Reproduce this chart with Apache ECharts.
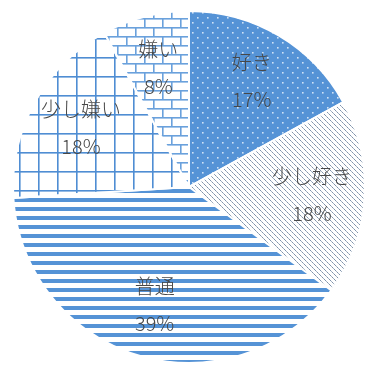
<!DOCTYPE html>
<html>
<head>
<meta charset="utf-8">
<script src="https://cdn.jsdelivr.net/npm/echarts@6/dist/echarts.min.js"></script>
<style>
  html, body { margin: 0; padding: 0; background: #fff; }
  #chart { width: 366px; height: 365px; }
</style>
</head>
<body>
<div id="chart"></div>
<script>
// Survey answers (percent of respondents), clockwise from 12 o'clock
const categories = ['好き', '少し好き', '普通', '少し嫌い', '嫌い'];
const shares = [17, 18, 39, 18, 8];

const BLUE = '#5593d6';
const CENTER = [189, 187];
const RADIUS = 176;
const LABEL_RATIO = 0.70;

function makeTile(w, h, draw) {
  const c = document.createElement('canvas');
  c.width = w; c.height = h;
  const ctx = c.getContext('2d');
  draw(ctx, w, h);
  return { image: c, repeat: 'repeat' };
}

// Fill patterns, one per slice
const patterns = [
  // solid blue with small light dots
  makeTile(10, 10, (ctx, w, h) => {
    ctx.fillStyle = BLUE; ctx.fillRect(0, 0, w, h);
    ctx.fillStyle = '#cfe2f6';
    ctx.fillRect(2, 2, 1.6, 1.6);
    ctx.fillRect(7, 7, 1.6, 1.6);
  }),
  // dotted downward diagonals
  makeTile(5, 5, (ctx, w, h) => {
    ctx.fillStyle = '#ffffff'; ctx.fillRect(0, 0, w, h);
    for (let i = 0; i < 5; i++) {
      ctx.fillStyle = i % 2 ? '#a3b3c6' : '#8193aa';
      ctx.fillRect(i, i, 1, 1);
    }
  }),
  // horizontal stripes
  makeTile(4, 9, (ctx, w, h) => {
    ctx.fillStyle = '#ffffff'; ctx.fillRect(0, 0, w, h);
    ctx.fillStyle = BLUE; ctx.fillRect(0, 0, w, 4);
  }),
  // large grid
  makeTile(19, 19, (ctx, w, h) => {
    ctx.fillStyle = '#ffffff'; ctx.fillRect(0, 0, w, h);
    ctx.fillStyle = '#4f8dd3';
    ctx.fillRect(0, 0, w, 1.6);
    ctx.fillRect(0, 0, 1.6, h);
  }),
  // horizontal brick
  makeTile(18, 18, (ctx, w, h) => {
    ctx.fillStyle = '#ffffff'; ctx.fillRect(0, 0, w, h);
    ctx.fillStyle = '#6aa1dc';
    ctx.fillRect(0, 0, w, 1.6);
    ctx.fillRect(0, 9, w, 1.6);
    ctx.fillRect(0, 0, 1.6, 9);
    ctx.fillRect(9, 9, 1.6, 9);
  })
];

const total = shares.reduce((a, b) => a + b, 0);
const midAngles = [];
let acc = 0;
shares.forEach(v => {
  midAngles.push((acc + v / 2) / total * 2 * Math.PI);
  acc += v;
});

const chart = echarts.init(document.getElementById('chart'), null, { renderer: 'canvas' });
chart.setOption({
  backgroundColor: '#ffffff',
  animation: false,
  series: [{
    type: 'pie',
    center: CENTER,
    radius: [0, RADIUS],
    startAngle: 90,
    clockwise: true,
    silent: true,
    data: categories.map((name, i) => ({
      name,
      value: shares[i],
      itemStyle: { color: patterns[i] }
    })),
    itemStyle: { borderColor: '#ffffff', borderWidth: 2 },
    label: {
      show: true,
      position: 'inside',
      formatter: '{b}\n{c}%',
      color: '#474747',
      fontSize: 20,
      fontWeight: 300,
      lineHeight: 37,
      fontFamily: "'Noto Sans CJK JP', sans-serif"
    },
    labelLine: { show: false },
    labelLayout: function (params) {
      const a = midAngles[params.dataIndex];
      return {
        x: CENTER[0] + LABEL_RATIO * RADIUS * Math.sin(a),
        y: CENTER[1] - LABEL_RATIO * RADIUS * Math.cos(a),
        align: 'center',
        verticalAlign: 'middle'
      };
    }
  }]
});
</script>
</body>
</html>
